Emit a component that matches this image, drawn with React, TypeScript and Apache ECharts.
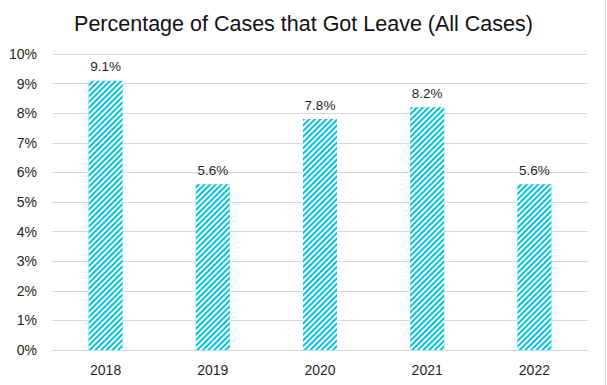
import React, { useEffect, useRef } from "react";
import * as echarts from "echarts";

const categories = ["2018", "2019", "2020", "2021", "2022"];
const values = [9.1, 5.6, 7.8, 8.2, 5.6];
const yTicks = { min: 0, max: 10, interval: 1 };
const titleText = "Percentage of Cases that Got Leave (All Cases)";

export default function App() {
  const ref = useRef<HTMLDivElement>(null);
  useEffect(() => {
    document.body.style.margin = "0";
    const chart = echarts.init(ref.current!, null, { renderer: "svg" });
    chart.setOption({
      animation: false,
      backgroundColor: "#ffffff",
      textStyle: { fontFamily: "Liberation Sans, Arial, sans-serif" },
      title: {
        text: titleText,
        left: "center",
        top: 8,
        textStyle: {
          fontSize: 21.5,
          fontWeight: "normal",
          color: "#111111",
          fontFamily: "Liberation Sans, Arial, sans-serif",
        },
      },
      grid: { left: 52, right: 19, top: 54, bottom: 35 },
      xAxis: {
        type: "category",
        data: categories,
        axisLine: { show: true, lineStyle: { color: "#d9d9d9", width: 1 } },
        axisTick: { show: false },
        axisLabel: { fontSize: 14, color: "#1f1f1f", margin: 13 },
      },
      yAxis: {
        type: "value",
        min: yTicks.min,
        max: yTicks.max,
        interval: yTicks.interval,
        axisLine: { show: false },
        axisTick: { show: false },
        splitLine: { lineStyle: { color: "#d9d9d9", width: 1 } },
        axisLabel: { fontSize: 14, color: "#1f1f1f", margin: 15, formatter: "{value}%" },
      },
      series: [
        {
          type: "bar",
          data: values,
          barWidth: 34,
          itemStyle: {
            color: "#00C4DE",
            decal: {
              symbol: "rect",
              color: "#ffffff",
              dashArrayX: [1, 0],
              dashArrayY: [1.6, 1.2],
              rotation: -Math.PI / 4,
            },
          },
          label: {
            show: true,
            position: "top",
            distance: 7,
            fontSize: 13.5,
            color: "#1f1f1f",
            formatter: "{c}%",
          },
        },
      ],
      graphic: [
        {
          type: "line",
          shape: { x1: 605.5, y1: 0, x2: 605.5, y2: 385 },
          style: { stroke: "#d9d9d9", lineWidth: 1 },
        },
      ],
    });
    return () => chart.dispose();
  }, []);
  return <div ref={ref} style={{ width: 607, height: 385 }} />;
}
